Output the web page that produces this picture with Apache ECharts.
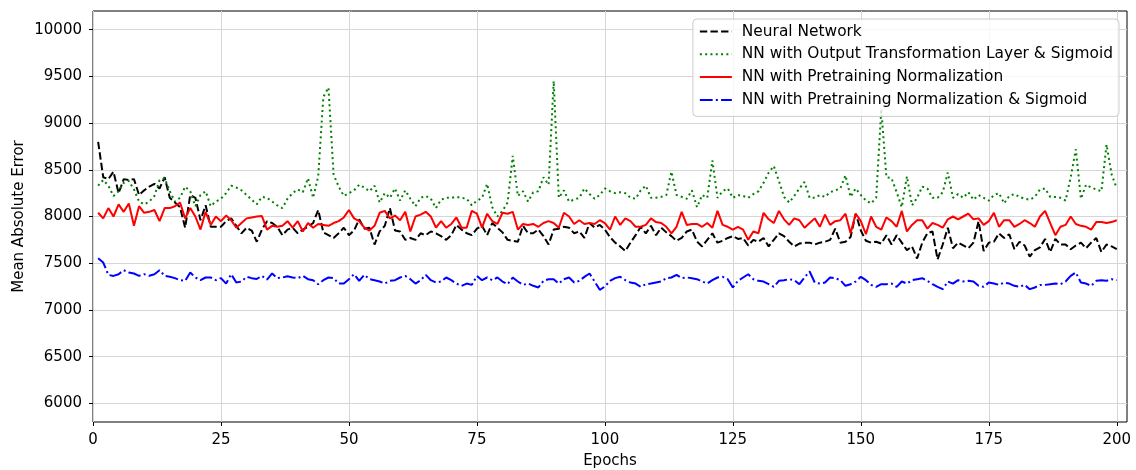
<!DOCTYPE html>
<html>
<head>
<meta charset="utf-8">
<script src="https://cdn.jsdelivr.net/npm/echarts@6/dist/echarts.min.js"></script>
<style>html,body{margin:0;padding:0;background:#fff}#c{width:1136px;height:470px}</style>
</head>
<body>
<div id="c"></div>
<script>
const epochs = Array.from({length: 200}, (_, i) => i + 1);

const nnValues = [
8800,8420,8400,8480,8250,8400,8390,8400,8230,8280,8320,8350,8300,8420,8200,8150,8100,7880,8230,8200,7960,8120,7890,7890,7890,
7950,7980,7900,7820,7880,7850,7730,7860,7950,7930,7890,7800,7860,7880,7820,7860,7890,7930,8070,7830,7800,7770,7820,7880,7800,
7850,7970,7870,7880,7700,7840,7900,8090,7850,7840,7750,7770,7750,7820,7800,7840,7820,7790,7750,7800,7910,7860,7820,7800,7870,
7900,7800,7930,7880,7830,7750,7740,7730,7900,7820,7820,7860,7790,7700,7860,7870,7890,7880,7820,7840,7770,7930,7880,7910,7860,
7780,7720,7680,7630,7720,7800,7890,7820,7900,7800,7880,7830,7790,7740,7770,7840,7860,7730,7680,7750,7820,7720,7740,7770,7790,
7760,7770,7690,7750,7730,7770,7680,7750,7820,7790,7730,7680,7710,7720,7720,7700,7720,7730,7750,7870,7720,7730,7780,8030,7850,
7740,7720,7730,7710,7800,7700,7800,7720,7640,7680,7550,7720,7820,7840,7540,7700,7880,7660,7720,7690,7660,7720,7950,7630,7720,
7730,7820,7770,7810,7650,7730,7690,7570,7640,7670,7760,7620,7760,7700,7700,7650,7690,7720,7660,7720,7770,7620,7700,7680,7650
];

const otlSigmoidValues = [
8330,8390,8330,8220,8270,8360,8380,8290,8160,8130,8160,8220,8390,8410,8270,8160,8200,8320,8270,8110,8230,8270,8110,8160,8190,
8250,8330,8310,8280,8230,8180,8130,8210,8200,8160,8120,8090,8190,8250,8290,8260,8410,8200,8430,9280,9380,8450,8320,8220,8250,
8280,8340,8310,8270,8330,8150,8250,8200,8300,8170,8280,8190,8110,8200,8220,8190,8090,8180,8200,8200,8210,8200,8190,8120,8170,
8200,8350,8100,8000,8060,8150,8650,8220,8270,8160,8260,8270,8420,8340,9450,8200,8280,8160,8180,8200,8300,8240,8190,8230,8300,
8270,8250,8260,8250,8200,8190,8280,8330,8200,8200,8210,8230,8480,8230,8210,8190,8280,8100,8230,8200,8600,8200,8270,8300,8200,
8230,8220,8200,8240,8270,8360,8470,8540,8380,8210,8150,8220,8300,8370,8200,8200,8230,8210,8260,8280,8300,8440,8210,8300,8230,
8170,8140,8200,9150,8420,8410,8260,8100,8430,8120,8200,8320,8300,8200,8200,8260,8470,8200,8240,8200,8260,8180,8230,8200,8170,
8230,8250,8140,8220,8240,8210,8190,8180,8210,8290,8300,8210,8210,8200,8170,8420,8720,8190,8340,8310,8290,8270,8770,8450,8300
];

const pretrainNormValues = [
8040,7980,8090,8000,8130,8050,8140,7900,8110,8040,8050,8070,7950,8090,8090,8110,8150,7980,8090,8000,7860,8050,7910,8000,7950,
8010,7960,7880,7930,7980,7990,8000,8005,7860,7900,7890,7900,7950,7880,7950,7840,7930,7880,7920,7910,7900,7930,7950,7990,8070,
7980,7950,7880,7850,7900,8040,8060,7980,8010,7960,8050,7840,8000,8020,8050,8000,7880,7950,7880,7920,7990,7880,7880,8060,8030,
7880,8030,7950,7920,8040,8030,8050,7860,7920,7910,7920,7890,7930,7950,7930,7880,8040,8000,7920,7960,7920,7930,7920,7960,7930,
7860,8000,7910,7980,7950,7890,7890,7910,7980,7940,7930,7890,7820,7890,8050,7910,7920,7920,7890,7930,7880,8060,7910,7890,7860,
7890,7860,7750,7840,7820,8040,7970,7930,8060,7970,7910,7980,7960,7880,7930,7980,7890,8020,7910,7950,7960,8030,7820,8030,7950,
7810,8000,7890,7860,7990,7950,7890,8060,7840,7910,7960,7960,7870,7930,7910,7880,7970,8000,7970,8000,8030,7970,7980,7910,7950,
8040,7890,7960,7960,7890,7920,7960,7930,7890,8000,8060,7930,7800,7890,7910,8000,7920,7900,7890,7860,7940,7940,7930,7940,7960
];

const pretrainNormSigmoidValues = [
7553,7507,7375,7364,7382,7425,7400,7390,7365,7382,7365,7382,7425,7365,7354,7340,7318,7311,7400,7347,7318,7347,7347,7318,7340,
7282,7382,7293,7304,7354,7340,7332,7364,7325,7390,7340,7347,7360,7347,7340,7364,7329,7318,7275,7318,7347,7340,7282,7282,7329,
7382,7311,7375,7329,7318,7304,7282,7311,7318,7347,7364,7329,7282,7318,7375,7318,7293,7304,7347,7318,7282,7258,7282,7268,7364,
7318,7347,7318,7347,7304,7275,7347,7304,7268,7282,7258,7240,7311,7329,7329,7282,7329,7347,7293,7311,7354,7390,7304,7215,7250,
7311,7340,7354,7318,7293,7282,7247,7275,7282,7293,7304,7340,7347,7375,7340,7347,7340,7329,7304,7282,7318,7347,7354,7329,7240,
7311,7347,7382,7329,7311,7304,7275,7247,7311,7318,7329,7318,7275,7347,7411,7293,7282,7293,7347,7340,7318,7258,7275,7304,7354,
7318,7268,7247,7275,7275,7282,7247,7304,7282,7318,7329,7340,7311,7275,7247,7222,7304,7282,7318,7304,7311,7304,7258,7247,7293,
7282,7268,7293,7282,7258,7247,7268,7222,7240,7268,7268,7275,7282,7275,7304,7364,7400,7293,7282,7258,7311,7318,7311,7329,7318
];

const xTicks = [0, 25, 50, 75, 100, 125, 150, 175, 200];
const yTicks = [6000, 6500, 7000, 7500, 8000, 8500, 9000, 9500, 10000];

const seriesNames = [
  'Neural Network',
  'NN with Output Transformation Layer & Sigmoid',
  'NN with Pretraining Normalization',
  'NN with Pretraining Normalization & Sigmoid'
];

function pairs(vals) { return epochs.map((e, i) => [e, vals[i]]); }

const FONT = 'DejaVu Sans';
const FS = 15;
const chart = echarts.init(document.getElementById('c'), null, {renderer: 'canvas'});

chart.setOption({
  animation: false,
  backgroundColor: '#ffffff',
  textStyle: {fontFamily: FONT},
  grid: {left: 93, right: 9, top: 11, bottom: 48, outerBoundsMode: 'none', containLabel: false,
         show: true, borderColor: '#000', borderWidth: 1, backgroundColor: 'transparent'},
  xAxis: {
    type: 'value', min: 0, max: 202,
    name: 'Epochs', nameLocation: 'middle', nameGap: 32, nameMoveOverlap: false,
    nameTextStyle: {fontFamily: FONT, fontSize: FS, color: '#000'},
    axisLine: {show: false},
    axisTick: {show: true, length: 4, lineStyle: {color: '#000', width: 1}, customValues: xTicks},
    axisLabel: {fontFamily: FONT, fontSize: FS, color: '#000', margin: 11, customValues: xTicks,
                formatter: v => String(v)},
    splitLine: {show: true, lineStyle: {color: '#d6d6d6', width: 1}}
  },
  yAxis: {
    type: 'value', min: 5800, max: 10200,
    name: 'Mean Absolute Error', nameLocation: 'middle', nameGap: 66, nameRotate: 90, nameMoveOverlap: false,
    nameTextStyle: {fontFamily: FONT, fontSize: FS, color: '#000'},
    axisLine: {show: false},
    axisTick: {show: true, length: 4, lineStyle: {color: '#000', width: 1}, customValues: yTicks},
    axisLabel: {fontFamily: FONT, fontSize: FS, color: '#000', margin: 11, customValues: yTicks,
                formatter: v => String(v)},
    splitLine: {show: true, lineStyle: {color: '#d6d6d6', width: 1}}
  },
  legend: {
    orient: 'vertical', right: 17, top: 19,
    padding: [5, 6, 9, 6], itemGap: 7.8, itemWidth: 32, itemHeight: 15,
    backgroundColor: 'rgba(255,255,255,0.8)', borderColor: '#cccccc', borderWidth: 1, borderRadius: 4,
    itemStyle: {opacity: 0},
    textStyle: {fontFamily: FONT, fontSize: 15.4, color: '#000', padding: [0, 0, 0, 5]},
    data: seriesNames
  },
  series: [
    {name: seriesNames[0], type: 'line', data: pairs(nnValues), symbol: 'none', z: 2,
     lineStyle: {color: '#000000', width: 2, type: [7.4, 3.2]}, itemStyle: {color: '#000000'}},
    {name: seriesNames[1], type: 'line', data: pairs(otlSigmoidValues), symbol: 'none', z: 3,
     lineStyle: {color: '#008000', width: 2, type: [2, 3.3]}, itemStyle: {color: '#008000'}},
    {name: seriesNames[2], type: 'line', data: pairs(pretrainNormValues), symbol: 'none', z: 4,
     lineStyle: {color: '#ff0000', width: 2, type: 'solid'}, itemStyle: {color: '#ff0000'}},
    {name: seriesNames[3], type: 'line', data: pairs(pretrainNormSigmoidValues), symbol: 'none', z: 5,
     lineStyle: {color: '#0000ff', width: 2, type: [12.8, 3.2, 2, 3.2]}, itemStyle: {color: '#0000ff'}}
  ]
});
</script>
</body>
</html>
